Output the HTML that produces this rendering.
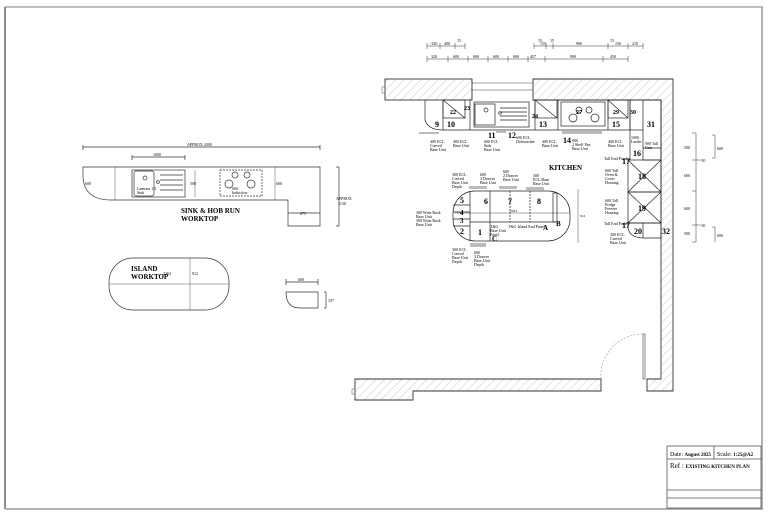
<!DOCTYPE html>
<html><head><meta charset="utf-8"><style>
html,body{margin:0;padding:0;background:#fff;}
svg{display:block;font-family:"Liberation Serif",serif;}
.t{font-size:4px;}
.n{font-size:8px;font-weight:bold;}
</style></head><body>
<svg width="768" height="514" viewBox="0 0 768 514" xmlns="http://www.w3.org/2000/svg">
<defs>
<pattern id="h" width="6" height="6" patternUnits="userSpaceOnUse" patternTransform="rotate(45)">
<rect width="6" height="6" fill="#fff"/><line x1="0" y1="0" x2="0" y2="6" stroke="#bbb" stroke-width="0.8"/>
</pattern>
</defs>
<g fill="none" stroke="#666" stroke-width="1.5">
<line x1="5" y1="7" x2="763" y2="7" stroke="#aaa"/>
<line x1="5" y1="7" x2="5" y2="509"/>
<line x1="5" y1="509" x2="763" y2="509" stroke="#999"/>
<line x1="762" y1="7" x2="762" y2="509" stroke="#999"/>
</g>
<!-- title block -->
<g stroke="#555" fill="none" stroke-width="0.8">
<rect x="667" y="446" width="94" height="62"/>
<line x1="667" y1="459" x2="761" y2="459"/>
<line x1="714" y1="446" x2="714" y2="459"/>
<line x1="667" y1="490" x2="761" y2="490"/>
<line x1="667" y1="498" x2="761" y2="498"/>
</g>
<text x="670" y="456" font-size="6">Date: <tspan font-weight="bold" font-size="5">August 2025</tspan></text>
<text x="717" y="456" font-size="6">Scale: <tspan font-weight="bold" font-size="5">1:25@A2</tspan></text>
<text x="670" y="468" font-size="7">Ref : <tspan font-weight="bold" font-size="5">EXISTING KITCHEN PLAN</tspan></text>

<!-- walls -->
<g stroke="#333" stroke-width="0.9" fill="url(#h)">
<rect x="385" y="79" width="87" height="21"/>
<path d="M533 79 H673 V391 H647 V379 H661 V100 H533 Z"/>
<path d="M355 379 H601 V391 H413 V400 H355 Z"/>
</g>
<rect x="382" y="87" width="3" height="6" fill="none" stroke="#555" stroke-width="0.5"/>
<rect x="352" y="389" width="3" height="5" fill="none" stroke="#555" stroke-width="0.5"/>
<g stroke="#444" stroke-width="0.6">
<line x1="472" y1="83" x2="533" y2="83"/><line x1="472" y1="90" x2="533" y2="90"/>
<line x1="472" y1="79" x2="472" y2="92"/><line x1="533" y1="79" x2="533" y2="92"/>
<rect x="643" y="334" width="2" height="45" fill="none"/>
</g>
<path d="M601 379 A42 42 0 0 1 643 334" fill="none" stroke="#999" stroke-width="0.6" stroke-dasharray="2,1.5"/>

<!-- dimension strings top -->
<g stroke="#333" stroke-width="0.5" fill="none">
<line x1="427" y1="46" x2="465" y2="46"/><line x1="427" y1="43" x2="427" y2="49"/><line x1="440" y1="43" x2="440" y2="49"/><line x1="455" y1="43" x2="455" y2="49"/><line x1="465" y1="43" x2="465" y2="49"/>
<line x1="534" y1="46" x2="643" y2="46"/><line x1="534" y1="43" x2="534" y2="49"/><line x1="546" y1="43" x2="546" y2="49"/><line x1="553" y1="43" x2="553" y2="49"/><line x1="608" y1="43" x2="608" y2="49"/><line x1="628" y1="43" x2="628" y2="49"/><line x1="643" y1="43" x2="643" y2="49"/>
<line x1="427" y1="59" x2="628" y2="59"/>
<line x1="427" y1="56" x2="427" y2="62"/><line x1="448" y1="56" x2="448" y2="62"/><line x1="468" y1="56" x2="468" y2="62"/><line x1="488" y1="56" x2="488" y2="62"/><line x1="508" y1="56" x2="508" y2="62"/><line x1="528" y1="56" x2="528" y2="62"/><line x1="545" y1="56" x2="545" y2="62"/><line x1="603" y1="56" x2="603" y2="62"/><line x1="628" y1="56" x2="628" y2="62"/>
<line x1="696" y1="133" x2="696" y2="242"/>
<line x1="692" y1="133" x2="696" y2="133"/><line x1="692" y1="160" x2="700" y2="160"/><line x1="692" y1="191" x2="696" y2="191"/><line x1="692" y1="225" x2="700" y2="225"/><line x1="692" y1="242" x2="696" y2="242"/>
<line x1="715" y1="135" x2="715" y2="158"/><line x1="712" y1="135" x2="715" y2="135"/><line x1="712" y1="158" x2="715" y2="158"/>
<line x1="715" y1="227" x2="715" y2="242"/><line x1="712" y1="227" x2="715" y2="227"/>
</g>
<g class="t" font-size="3.5">
<text x="430" y="45">-320</text><text x="444" y="45">400</text><text x="457" y="42">15</text>
<text x="538" y="42">15</text><text x="540" y="45">155</text><text x="550" y="42">15</text><text x="576" y="45">900</text><text x="610" y="42">15</text><text x="615" y="45">150</text><text x="632" y="45">210</text>
<text x="431" y="58">320</text><text x="453" y="58">600</text><text x="473" y="58">600</text><text x="493" y="58">600</text><text x="513" y="58">600</text><text x="530" y="58">457</text><text x="570" y="58">900</text><text x="610" y="58">450</text>
<text x="684" y="149">500</text><text x="684" y="177">600</text><text x="684" y="210">600</text><text x="684" y="235">500</text><text x="717" y="150">600</text><text x="717" y="237">600</text>
<text x="700" y="162">-50</text><text x="700" y="227">-50</text>
</g>

<!-- top run cabinets -->
<g stroke="#222" stroke-width="0.7" fill="none">
<path d="M425 100 V120 Q428 130 443 130 H630 V100"/>
<line x1="443" y1="100" x2="443" y2="130"/>
<line x1="470" y1="100" x2="470" y2="130"/>
<line x1="535" y1="100" x2="535" y2="130"/>
<line x1="558" y1="100" x2="558" y2="130"/>
<line x1="608" y1="100" x2="608" y2="130"/>
<rect x="443" y="100" width="22" height="18"/>
<rect x="535" y="100" width="22" height="18"/>
<rect x="608" y="100" width="20" height="18"/>
<line x1="443" y1="100" x2="465" y2="118"/><line x1="535" y1="100" x2="557" y2="118"/><line x1="608" y1="100" x2="628" y2="118"/>
<rect x="474" y="102" width="55" height="25"/>
<rect x="475" y="104" width="20" height="21"/>
<line x1="500" y1="108" x2="527" y2="108"/><line x1="500" y1="112" x2="527" y2="112"/><line x1="500" y1="116" x2="527" y2="116"/><line x1="500" y1="120" x2="527" y2="120"/>
<circle cx="486" cy="110" r="2"/><circle cx="500" cy="113" r="1.3"/>
<rect x="561" y="102" width="44" height="24"/>
<circle cx="579" cy="110" r="3"/><circle cx="589" cy="110" r="3"/><circle cx="573" cy="118" r="4"/><circle cx="595" cy="118" r="4"/>
<rect x="643" y="100" width="18" height="60"/>
<line x1="630" y1="100" x2="630" y2="160"/>
<line x1="630" y1="130" x2="643" y2="130"/>
<line x1="643" y1="148" x2="661" y2="148"/>
<rect x="628" y="160" width="33" height="32"/><line x1="628" y1="160" x2="661" y2="192"/><line x1="661" y1="160" x2="628" y2="192"/>
<rect x="628" y="192" width="33" height="31"/><line x1="628" y1="192" x2="661" y2="223"/><line x1="661" y1="192" x2="628" y2="223"/>
<path d="M628 223 H661 V238 H645 Q628 238 628 226 Z"/>
<line x1="643" y1="223" x2="643" y2="238"/>
</g>
<g fill="#bbb"><rect x="419" y="132" width="20" height="2"/><rect x="562" y="131" width="40" height="3"/><rect x="496" y="131" width="10" height="2"/></g>
<g class="n">
<text x="435" y="127">9</text><text x="447" y="127">10</text><text x="488" y="138">11</text><text x="508" y="138">12</text>
<text x="539" y="127">13</text><text x="563" y="143">14</text><text x="612" y="127">15</text><text x="647" y="127">31</text>
<text x="633" y="156">16</text><text x="450" y="114" font-size="6">22</text><text x="464" y="110" font-size="6">23</text><text x="532" y="118" font-size="6">24</text>
<text x="576" y="114" font-size="6">27</text><text x="613" y="114" font-size="6">29</text><text x="630" y="114" font-size="6">30</text>
<text x="638" y="179">18</text><text x="638" y="211">19</text><text x="634" y="234">20</text><text x="662" y="234">32</text>
<text x="622" y="164">17</text><text x="622" y="228">17</text>
</g>
<text x="549" y="170" font-size="7" font-weight="bold">KITCHEN</text>
<g class="t" font-size="3.2">
<text x="430" y="143">400 ECL</text><text x="430" y="147">Curved</text><text x="430" y="151">Base Unit</text>
<text x="453" y="143">400 ECL</text><text x="453" y="147">Base Unit</text>
<text x="484" y="143">600 ECL</text><text x="484" y="147">Sink</text><text x="484" y="151">Base Unit</text>
<text x="516" y="139">600 ECL</text><text x="516" y="143">Dishwasher</text>
<text x="542" y="143">400 ECL</text><text x="542" y="147">Base Unit</text>
<text x="572" y="142">900</text><text x="572" y="146">2 Shelf Pan</text><text x="572" y="150">Base Unit</text>
<text x="608" y="143">400 ECL</text><text x="608" y="147">Base Unit</text>
<text x="631" y="139">1000</text><text x="631" y="143">Larder</text>
<text x="645" y="145">900 Tall</text><text x="645" y="149">Unit</text>
<text x="604" y="160">Tall End Panel</text>
<text x="605" y="172">600 Tall</text><text x="605" y="176">Oven &amp;</text><text x="605" y="180">Cover</text><text x="605" y="184">Housing</text>
<text x="605" y="202">600 Tall</text><text x="605" y="206">Fridge</text><text x="605" y="210">Freezer</text><text x="605" y="214">Housing</text>
<text x="604" y="225">Tall End Panel</text>
<text x="610" y="236">300 ECL</text><text x="610" y="240">Curved</text><text x="610" y="244">Base Unit</text>
<text x="452" y="176">300 ECL</text><text x="452" y="180">Curved</text><text x="452" y="184">Base Unit</text><text x="452" y="188">Depth</text>
<text x="480" y="176">600</text><text x="480" y="180">3 Drawer</text><text x="480" y="184">Base Unit</text>
<text x="503" y="173">600</text><text x="503" y="177">2 Drawer</text><text x="503" y="181">Base Unit</text>
<text x="533" y="177">300</text><text x="533" y="181">ECL Base</text><text x="533" y="185">Base Unit</text>
<text x="416" y="214">300 Wine Rack</text><text x="416" y="218">Base Unit</text><text x="416" y="222">300 Wine Rack</text><text x="416" y="226">Base Unit</text>
<text x="452" y="251">300 ECL</text><text x="452" y="255">Curved</text><text x="452" y="259">Base Unit</text><text x="452" y="263">Depth</text>
<text x="474" y="254">600</text><text x="474" y="258">3 Drawer</text><text x="474" y="262">Base Unit</text><text x="474" y="266">Depth</text>
<text x="490" y="228">T&amp;G</text><text x="490" y="232">Base Unit</text><text x="490" y="236">Panel</text>
<text x="508" y="228">T&amp;G Island End Panel</text>
</g>

<!-- island -->
<g stroke="#222" stroke-width="0.7" fill="none">
<rect x="453" y="191" width="117" height="50" rx="22"/>
<line x1="470" y1="191" x2="470" y2="241"/>
<line x1="490" y1="191" x2="490" y2="222"/><line x1="510" y1="191" x2="510" y2="222" stroke-dasharray="2,1"/><line x1="530" y1="191" x2="530" y2="222" stroke-dasharray="2,1"/>
<line x1="453" y1="205" x2="470" y2="205"/><line x1="453" y1="212" x2="470" y2="212"/><line x1="453" y1="219" x2="470" y2="219"/><line x1="453" y1="226" x2="470" y2="226"/>
<line x1="470" y1="222" x2="555" y2="222"/><line x1="490" y1="222" x2="490" y2="241"/>
<rect x="553" y="193" width="4" height="29"/>
<line x1="455" y1="213" x2="570" y2="213" stroke-width="0.4"/>
<line x1="578" y1="189" x2="578" y2="243" stroke-width="0.4"/>
</g>
<g fill="#bbb"><rect x="469" y="186" width="18" height="3"/><rect x="499" y="186" width="18" height="3"/><rect x="526" y="187" width="18" height="3"/><rect x="470" y="243" width="16" height="4"/></g>
<g class="n"><text x="460" y="203">5</text><text x="484" y="204">6</text><text x="508" y="204">7</text><text x="537" y="204">8</text>
<text x="460" y="215" font-size="7">4</text><text x="460" y="223" font-size="7">3</text><text x="460" y="234">2</text><text x="478" y="235">1</text>
<text x="543" y="230" font-size="7">A</text><text x="556" y="226" font-size="7">B</text><text x="492" y="241" font-size="7">C</text></g>
<text x="510" y="212" font-size="3.5">2263</text><text x="580" y="217" font-size="3.5">912</text>

<!-- left: sink & hob run worktop -->
<g stroke="#333" stroke-width="0.7" fill="none">
<line x1="83" y1="147" x2="320" y2="147"/><line x1="83" y1="145" x2="83" y2="150"/><line x1="320" y1="145" x2="320" y2="150"/>
<line x1="132" y1="157" x2="185" y2="157"/><line x1="132" y1="155" x2="132" y2="160"/><line x1="185" y1="155" x2="185" y2="160"/>
<path d="M83 167 H320 V226 H288 V200 H111 Q85 200 83 178 Z"/>
<rect x="132" y="170" width="53" height="27"/><rect x="134" y="171" width="20" height="25" rx="2"/>
<line x1="160" y1="175" x2="183" y2="175"/><line x1="160" y1="180" x2="183" y2="180"/><line x1="160" y1="185" x2="183" y2="185"/><line x1="160" y1="190" x2="183" y2="190"/>
<circle cx="145" cy="178" r="2"/><circle cx="158" cy="182" r="1.4"/>
<rect x="220" y="170" width="42" height="26" stroke-dasharray="2,1"/>
<circle cx="235" cy="175" r="3"/><circle cx="247" cy="175" r="3"/><circle cx="229" cy="184" r="4"/><circle cx="251" cy="184" r="4"/>
<line x1="115" y1="167" x2="115" y2="200" stroke-width="0.4"/><line x1="275" y1="167" x2="275" y2="200" stroke-width="0.4"/><line x1="195" y1="170" x2="195" y2="197" stroke-width="0.4"/>
<line x1="339" y1="167" x2="339" y2="226"/><line x1="336" y1="167" x2="339" y2="167"/><line x1="336" y1="226" x2="339" y2="226"/>
<line x1="288" y1="213" x2="320" y2="213"/>
<!-- island worktop -->
<rect x="109" y="258" width="120" height="52" rx="24"/>
<line x1="109" y1="284" x2="229" y2="284" stroke-width="0.4"/><line x1="190" y1="258" x2="190" y2="310" stroke-width="0.4"/>
<!-- small piece -->
<path d="M286 292 H318 V308 H300 Q286 308 286 292 Z"/>
<line x1="286" y1="282" x2="318" y2="282"/><line x1="286" y1="279" x2="286" y2="285"/><line x1="318" y1="279" x2="318" y2="285"/>
<line x1="326" y1="292" x2="326" y2="308"/><line x1="324" y1="292" x2="326" y2="292"/><line x1="324" y1="308" x2="326" y2="308"/>
</g>
<g class="t" font-size="3.5">
<text x="187" y="146">APPROX 4300</text><text x="153" y="156">1000</text>
<text x="85" y="185">600</text><text x="190" y="185">508</text><text x="276" y="185">600</text>
<text x="137" y="190">Lamona 1.5</text><text x="137" y="194">Sink</text>
<text x="232" y="190">600</text><text x="232" y="194">Induction</text>
<text x="300" y="215">675</text><text x="336" y="200">APPROX</text><text x="338" y="205">1130</text>
<text x="163" y="275">2263</text><text x="192" y="275">912</text><text x="298" y="281">600</text><text x="328" y="302">337</text>
</g>
<text x="181" y="213" font-size="7" font-weight="bold">SINK &amp; HOB RUN</text>
<text x="181" y="221" font-size="7" font-weight="bold">WORKTOP</text>
<text x="131" y="271" font-size="7" font-weight="bold">ISLAND</text>
<text x="131" y="279" font-size="7" font-weight="bold">WORKTOP</text>
</svg>
</body></html>
